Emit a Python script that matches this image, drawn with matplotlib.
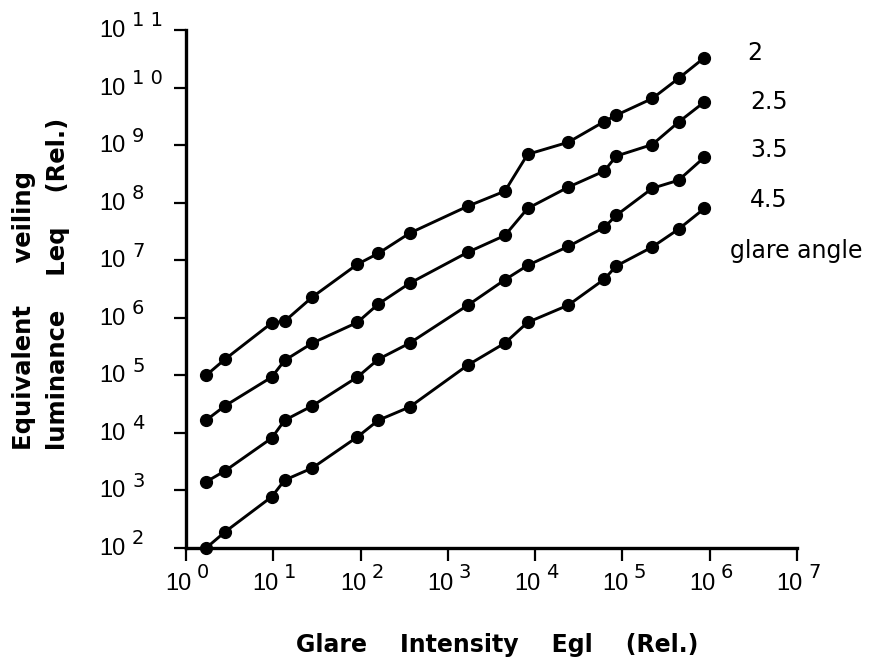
import numpy as np
import matplotlib
matplotlib.use('Agg')
import matplotlib.pyplot as plt
from matplotlib.ticker import FixedLocator, NullFormatter

plt.rcParams['font.family'] = ['Liberation Sans', 'DejaVu Sans']

# Glare intensity Egl (rel.), shared by all curves
egl = [1.7, 2.8, 9.6, 13.5, 28, 92, 160, 365, 1700, 4500, 8200,
       24000, 62000, 85000, 220000, 440000, 870000]

# Equivalent veiling luminance Leq (rel.), log10 values, one list per glare angle
leq_2 = [5.0, 5.28, 5.91, 5.94, 6.36, 6.93, 7.12, 7.47, 7.94, 8.20, 8.84,
         9.05, 9.41, 9.52, 9.81, 10.16, 10.52]
leq_25 = [4.22, 4.47, 4.97, 5.26, 5.56, 5.92, 6.24, 6.60, 7.14, 7.43, 7.90,
          8.27, 8.55, 8.81, 9.01, 9.40, 9.75]
leq_35 = [3.15, 3.34, 3.91, 4.22, 4.47, 4.97, 5.28, 5.56, 6.22, 6.66, 6.91,
          7.24, 7.57, 7.78, 8.25, 8.39, 8.79]
leq_45 = [2.0, 2.28, 2.89, 3.18, 3.39, 3.93, 4.22, 4.45, 5.18, 5.56, 5.92,
          6.22, 6.67, 6.90, 7.23, 7.54, 7.90]

angles = ['2', '2.5', '3.5', '4.5']
series = [leq_2, leq_25, leq_35, leq_45]
label_x = [10**6.43, 10**6.46, 10**6.46, 10**6.46]
label_y = [10**10.60, 10**9.75, 10**8.91, 10**8.05]

x_decades = list(range(0, 8))
y_decades = list(range(2, 12))

fig = plt.figure(figsize=(8.69, 6.62), dpi=100)
# axes box: x 186..797 px, y 30..548 px
ax = fig.add_axes([186 / 869, 1 - 548 / 662, 611 / 869, 518 / 662])

for name, ys, lx, ly in zip(angles, series, label_x, label_y):
    ax.plot(egl, 10.0 ** np.array(ys), '-o', color='black', lw=2.1,
            markersize=8.5, markerfacecolor='black', clip_on=False, zorder=3)
    ax.text(lx, ly, name, fontsize=17, family='DejaVu Sans',
            va='center', ha='left')
ax.text(10**6.23, 10**7.16, 'glare angle', fontsize=17, family='DejaVu Sans',
        va='center', ha='left')

ax.set_xscale('log')
ax.set_yscale('log')
ax.set_xlim(1, 1e7)
ax.set_ylim(1e2, 1e11)
ax.xaxis.set_major_locator(FixedLocator([10.0**k for k in x_decades]))
ax.yaxis.set_major_locator(FixedLocator([10.0**k for k in y_decades]))
ax.minorticks_off()
ax.xaxis.set_major_formatter(NullFormatter())
ax.yaxis.set_major_formatter(NullFormatter())
ax.tick_params(axis='both', width=1.6, length=9, direction='out')

# "10" plus a large raised exponent, as in the scanned figure (offsets in points)
px = 0.72
for k in x_decades:
    ax.annotate('10', xy=(10.0**k, 0), xycoords=('data', 'axes fraction'),
                xytext=(-7.5 * px, -35.5 * px), textcoords='offset points',
                fontsize=17, ha='center', va='center')
    ax.annotate(str(k), xy=(10.0**k, 0), xycoords=('data', 'axes fraction'),
                xytext=(11 * px, -25 * px), textcoords='offset points',
                fontsize=14, family='DejaVu Sans', ha='left', va='center')
for k in y_decades:
    ax.annotate('10', xy=(0, 10.0**k), xycoords=('axes fraction', 'data'),
                xytext=(-87 * px, -1 * px), textcoords='offset points',
                fontsize=17, ha='left', va='center')
    ax.annotate(' '.join(str(k)) if k > 9 else str(k), xy=(0, 10.0**k),
                xycoords=('axes fraction', 'data'),
                xytext=(-54 * px, 9 * px), textcoords='offset points',
                fontsize=14, family='DejaVu Sans', ha='left', va='center')

for s in ['top', 'right']:
    ax.spines[s].set_visible(False)
for s in ['left', 'bottom']:
    ax.spines[s].set_linewidth(2.4)

ax.set_xlabel('Glare    Intensity    Egl    (Rel.)', fontsize=17,
              family='DejaVu Sans', fontweight='bold')
ax.xaxis.set_label_coords(0.509, -0.164)
ax.xaxis.label.set_verticalalignment('top')

fig.text(24 / 869, 1 - 450 / 662, 'Equivalent     veiling', rotation=90,
         fontsize=17.5, family='DejaVu Sans', fontweight='bold',
         ha='center', va='bottom')
fig.text(58 / 869, 1 - 450 / 662, 'luminance    Leq    (Rel.)', rotation=90,
         fontsize=17.5, family='DejaVu Sans', fontweight='bold',
         ha='center', va='bottom')

fig.savefig('out.png', dpi=100)
